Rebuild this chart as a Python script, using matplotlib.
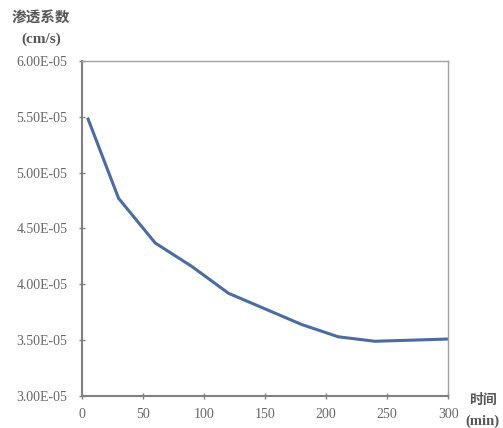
import matplotlib
matplotlib.use("Agg")
import matplotlib.pyplot as plt
from matplotlib.ticker import FuncFormatter

time_min = [5, 30, 60, 90, 120, 150, 180, 210, 240, 270, 300]
perm = [5.48e-5, 4.77e-5, 4.37e-5, 4.16e-5, 3.92e-5, 3.78e-5, 3.64e-5, 3.53e-5, 3.49e-5, 3.50e-5, 3.51e-5]
x_ticks = [0, 50, 100, 150, 200, 250, 300]
y_ticks = [3.0e-5, 3.5e-5, 4.0e-5, 4.5e-5, 5.0e-5, 5.5e-5, 6.0e-5]

fig = plt.figure(figsize=(5.03, 4.28), dpi=100)
ax = fig.add_axes([0.163, 0.0748, 0.728, 0.7827])
ax.plot(time_min, perm, color="#4a6c9e", lw=2.2)
ax.set_xlim(0, 300)
ax.set_ylim(3.0e-5, 6.0e-5)
ax.set_xticks(x_ticks)
ax.set_yticks(y_ticks)
ax.yaxis.set_major_formatter(FuncFormatter(lambda v, p: f"{v:.2E}"))
for s in ["left", "bottom"]:
    ax.spines[s].set_color("#808080")
    ax.spines[s].set_linewidth(1.5)
for s in ["top", "right"]:
    ax.spines[s].set_color("#a0a0a0")
    ax.spines[s].set_linewidth(1.0)
ax.tick_params(direction="inout", length=5, width=1, color="#808080",
               labelsize=10, labelcolor="#666666")
ax.tick_params(axis="y", pad=8)
ax.tick_params(axis="x", pad=6)
for lab in ax.get_xticklabels() + ax.get_yticklabels():
    lab.set_fontfamily("Liberation Serif")

cjk = ["Noto Sans CJK SC", "DejaVu Sans"]
fig.text(0.082, 0.960, "渗透系数", family=cjk, fontsize=10.5, fontweight="bold",
         color="#555555", ha="center", va="center")
fig.text(0.082, 0.909, "(cm/s)", family=["Liberation Serif"], fontsize=11,
         fontweight="bold", color="#555555", ha="center", va="center")
fig.text(0.960, 0.0654, "时间", family=cjk, fontsize=10, fontweight="bold",
         color="#555555", ha="center", va="center")
fig.text(0.960, 0.0164, "(min)", family=["Liberation Serif"], fontsize=10.5,
         fontweight="bold", color="#555555", ha="center", va="center")

fig.savefig("out.png", dpi=100)
